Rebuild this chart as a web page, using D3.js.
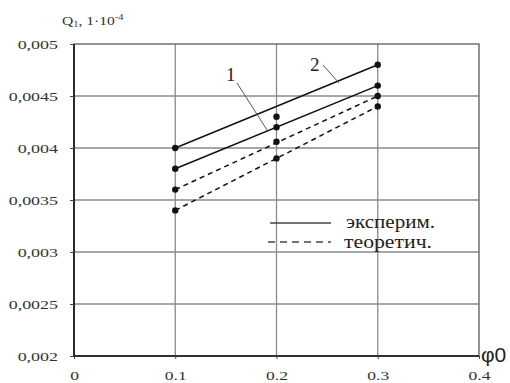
<!DOCTYPE html>
<html>
<head>
<meta charset="utf-8">
<script src="https://cdn.jsdelivr.net/npm/d3@7"></script>
<style>
  body { margin: 0; background: #fff; }
  svg { display: block; }
</style>
</head>
<body>
<svg id="chart" width="510" height="383"></svg>
<script>
// x values of the measurements
const phi = [0.1, 0.2, 0.3];

// measured points (Q1)
const expTop = [0.0040, 0.0043, 0.0048];
const expLow = [0.0038, 0.0042, 0.0046];
const theoTop = [0.0036, 0.00406, 0.0045];
const theoLow = [0.0034, 0.0039, 0.0044];

// straight lines through each series (value at 0.1 and at 0.3)
const lineX = [0.1, 0.3];
const lineExpTop = [0.0040, 0.0048];
const lineExpLow = [0.0038, 0.0046];
const lineTheoTop = [0.0036, 0.0045];
const lineTheoLow = [0.0034, 0.0044];

const xTicks = [0, 0.1, 0.2, 0.3, 0.4];
const xTickLabels = ["0", "0.1", "0.2", "0.3", "0.4"];
const yTicks = [0.002, 0.0025, 0.003, 0.0035, 0.004, 0.0045, 0.005];
const yTickLabels = ["0,002", "0,0025", "0,003", "0,0035", "0,004", "0,0045", "0,005"];

const SERIF = "'Liberation Serif', 'Times New Roman', 'DejaVu Serif', serif";

const margin = {left: 74, top: 44, right: 31, bottom: 27};
const width = 510, height = 383;

const svg = d3.select("#chart");

const x = d3.scaleLinear().domain([0, 0.4]).range([margin.left, width - margin.right]);
const y = d3.scaleLinear().domain([0.002, 0.005]).range([height - margin.bottom, margin.top]);

// the scanned labels are wider than the font, stretch them horizontally
function stretch(sel, k) {
    sel.each(function() {
        const w = this.getComputedTextLength();
        d3.select(this).attr("textLength", w * k).attr("lengthAdjust", "spacingAndGlyphs");
    });
}

// grid
const grid = svg.append("g");
grid.selectAll("line.gx")
    .data(xTicks.slice(1, -1))
    .enter()
    .append("line")
    .attr("x1", d => x(d)).attr("x2", d => x(d))
    .attr("y1", y(0.002)).attr("y2", y(0.005))
    .style("stroke", "#8a8a8a").style("stroke-width", 1.3);
grid.selectAll("line.gy")
    .data(yTicks.slice(1, -1))
    .enter()
    .append("line")
    .attr("x1", x(0)).attr("x2", x(0.4))
    .attr("y1", d => y(d)).attr("y2", d => y(d))
    .style("stroke", "#8a8a8a").style("stroke-width", 1.3);

// frame
svg.append("rect")
    .attr("x", x(0)).attr("y", y(0.005))
    .attr("width", x(0.4) - x(0)).attr("height", y(0.002) - y(0.005))
    .attr("fill", "none").style("stroke", "#666").style("stroke-width", 1.4);
svg.append("line")
    .attr("x1", x(0)).attr("x2", x(0))
    .attr("y1", y(0.005)).attr("y2", y(0.002))
    .style("stroke", "#111").style("stroke-width", 1.6);
svg.append("line")
    .attr("x1", x(0)).attr("x2", x(0.4))
    .attr("y1", y(0.002)).attr("y2", y(0.002))
    .style("stroke", "#111").style("stroke-width", 1.6);

// axes (ticks + labels)
const yAxis = d3.axisLeft(y).tickValues(yTicks).tickSize(4).tickPadding(12)
    .tickFormat((d, i) => yTickLabels[i]);
const gy = svg.append("g").attr("transform", `translate(${x(0)},0)`).call(yAxis);
gy.select(".domain").remove();
gy.selectAll("line").style("stroke", "#444");
gy.selectAll("text")
    .attr("dy", "0.32em")
    .style("font-family", SERIF).style("font-size", "13px").style("fill", "#333");
stretch(gy.selectAll("text"), 1.38);

const xAxis = d3.axisBottom(x).tickValues(xTicks).tickSize(3).tickPadding(12)
    .tickFormat((d, i) => xTickLabels[i]);
const gx = svg.append("g").attr("transform", `translate(0,${y(0.002)})`).call(xAxis);
gx.select(".domain").remove();
gx.selectAll("line").style("stroke", "#444");
gx.selectAll("text")
    .style("font-family", SERIF).style("font-size", "13px").style("fill", "#333");
stretch(gx.selectAll("text"), 1.35);

// series lines
const line = d3.line().x(d => x(d[0])).y(d => y(d[1]));
const seriesLines = [
    {v: lineExpTop, dash: null},
    {v: lineExpLow, dash: null},
    {v: lineTheoTop, dash: "5,4"},
    {v: lineTheoLow, dash: "5,4"}
];
svg.append("g")
    .selectAll("path")
    .data(seriesLines)
    .enter()
    .append("path")
    .attr("d", d => line(lineX.map((xv, i) => [xv, d.v[i]])))
    .attr("fill", "none")
    .style("stroke", "#111")
    .style("stroke-width", 1.5)
    .style("stroke-dasharray", d => d.dash);

// points
const pts = [];
[expTop, expLow, theoTop, theoLow].forEach(s => s.forEach((v, i) => pts.push([phi[i], v])));
svg.append("g")
    .selectAll("circle")
    .data(pts)
    .enter()
    .append("circle")
    .attr("cx", d => x(d[0]))
    .attr("cy", d => y(d[1]))
    .attr("r", 3.2)
    .attr("fill", "#111");

// curve labels with leader lines
svg.append("text").attr("x", 226).attr("y", 81)
    .style("font-family", SERIF).style("font-size", "19px").style("fill", "#222").text("1");
svg.append("line").attr("x1", 237).attr("y1", 83).attr("x2", 267).attr("y2", 130)
    .style("stroke", "#555").style("stroke-width", 1);
svg.append("text").attr("x", 310).attr("y", 71)
    .style("font-family", SERIF).style("font-size", "19px").style("fill", "#222").text("2");
svg.append("line").attr("x1", 323).attr("y1", 65).attr("x2", 339).attr("y2", 83)
    .style("stroke", "#555").style("stroke-width", 1);

// legend
const legend = svg.append("g");
legend.append("line").attr("x1", 270).attr("x2", 331).attr("y1", 223).attr("y2", 223)
    .style("stroke", "#444").style("stroke-width", 1.3);
legend.append("line").attr("x1", 268).attr("x2", 331).attr("y1", 242).attr("y2", 242)
    .style("stroke", "#444").style("stroke-width", 1.3).style("stroke-dasharray", "7,5");
legend.append("text").attr("x", 346).attr("y", 228)
    .style("font-family", SERIF).style("font-size", "19px").style("fill", "#222")
    .text("эксперим.").attr("textLength", 89).attr("lengthAdjust", "spacingAndGlyphs");
legend.append("text").attr("x", 344).attr("y", 248)
    .style("font-family", SERIF).style("font-size", "19px").style("fill", "#222")
    .text("теоретич.").attr("textLength", 88).attr("lengthAdjust", "spacingAndGlyphs");

// axis titles
const yTitle = svg.append("text").attr("transform", "translate(62,25) scale(1.3,1)")
    .style("font-family", SERIF).style("font-size", "12px").style("fill", "#333");
yTitle.append("tspan").text("Q");
yTitle.append("tspan").style("font-size", "8px").attr("dy", 2).text("1");
yTitle.append("tspan").attr("dy", -2).text(", 1·10");
yTitle.append("tspan").style("font-size", "8px").attr("dy", -5).text("-4");

svg.append("text").attr("x", 481).attr("y", 362)
    .style("font-family", "'Liberation Sans', Arial, sans-serif").style("font-size", "21px").style("fill", "#222")
    .text("φ0");
</script>
</body>
</html>
